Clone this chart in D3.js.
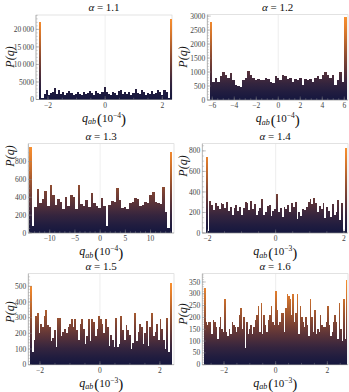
<!DOCTYPE html>
<html>
<head>
<meta charset="utf-8">
<script src="https://cdn.jsdelivr.net/npm/d3@7"></script>
<style>
  body { margin: 0; background: #fff; }
  svg { display: block; font-family: "Liberation Serif", "DejaVu Serif", serif; }
  .tick-label { font-size: 7.5px; fill: #444; }
</style>
</head>
<body>
<div id="chart"></div>
<script>
// panel titles and axis exponents
const alphas = ["1.1", "1.2", "1.3", "1.4", "1.5", "1.6"];
const exponents = ["−4", "−4", "−4", "−3", "−3", "−3"];

// histogram counts (left to right)
const counts11 = [22000, 300, 1500, 2600, 1200, 1800, 2200, 3400, 1600, 2800, 1500, 2000, 1300, 1800, 2300, 1900,
  1200, 1500, 2000, 1700, 1400, 2200, 1600, 1900, 2500, 1800, 1300, 2400, 1900, 1500, 2100, 3500, 2000, 1600,
  1200, 2100, 1800, 1400, 2300, 2600, 1500, 2000, 1700, 2200, 1200, 1800, 3100, 1900, 1500, 2700, 2200, 1400,
  1900, 1700, 2300, 1500, 1800, 2600, 2100, 1400, 2700, 2000, 400, 23000];
const counts12 = [2800, 650, 800, 650, 850, 1000, 900, 800, 950, 700, 550, 500, 450, 700, 800, 1050, 900, 800,
  700, 750, 700, 700, 800, 750, 650, 600, 850, 800, 700, 900, 850, 750, 800, 650, 750, 700, 800, 550, 750, 700,
  750, 650, 800, 850, 750, 900, 1000, 900, 800, 900, 550, 700, 1000, 650, 2950];
const counts13 = [960, 80, 290, 490, 340, 380, 470, 300, 540, 420, 310, 380, 350, 270, 400, 300, 430, 400, 270,
  540, 330, 300, 370, 290, 450, 340, 300, 280, 390, 300, 80, 310, 360, 350, 500, 370, 280, 290, 270, 340, 350,
  390, 380, 300, 310, 350, 340, 420, 460, 350, 340, 330, 510, 230, 60, 910];
const counts14 = [740, 20, 310, 270, 220, 290, 260, 230, 290, 280, 240, 300, 210, 250, 180, 240, 270, 210, 250,
  180, 240, 300, 290, 220, 310, 230, 280, 180, 210, 240, 330, 180, 200, 260, 270, 170, 210, 230, 380, 200, 240,
  160, 250, 230, 270, 200, 290, 250, 300, 140, 200, 170, 230, 220, 250, 300, 330, 280, 340, 290, 200, 260, 230,
  290, 150, 250, 210, 160, 280, 180, 200, 320, 130, 290, 20, 830];
const counts15 = [500, 80, 160, 310, 330, 200, 260, 240, 310, 350, 250, 240, 150, 170, 220, 110, 300, 300, 180,
  210, 230, 200, 240, 260, 290, 240, 290, 220, 160, 260, 290, 230, 130, 180, 290, 150, 290, 270, 180, 230, 310,
  290, 260, 200, 290, 240, 120, 190, 160, 110, 300, 110, 130, 310, 220, 160, 250, 220, 190, 100, 140, 330, 150,
  210, 260, 240, 130, 200, 280, 120, 240, 330, 180, 210, 260, 160, 290, 230, 160, 100, 300, 80, 520];
const counts16 = [325, 180, 170, 180, 180, 130, 190, 180, 160, 110, 160, 200, 150, 140, 280, 140, 120, 150, 130,
  180, 170, 160, 140, 160, 210, 240, 150, 200, 70, 180, 130, 150, 170, 130, 160, 190, 210, 250, 140, 260, 130,
  210, 170, 140, 190, 210, 250, 180, 170, 310, 230, 170, 180, 220, 220, 140, 240, 300, 290, 280, 210, 300, 180,
  220, 300, 130, 250, 200, 180, 160, 200, 170, 120, 280, 200, 140, 230, 130, 150, 140, 210, 170, 160, 160, 180,
  250, 170, 120, 140, 180, 210, 180, 110, 260, 150, 100, 280, 110, 360];
const allCounts = [counts11, counts12, counts13, counts14, counts15, counts16];

// bin range (first left edge, last right edge) and plotted ranges
const binRanges = [[-2.3, 2.33], [-6.22, 6.22], [-14.1, 14.35], [-2.05, 2.08], [-2.33, 2.39], [-2.77, 2.78]];
const xDomains = [[-2.42, 2.34], [-6.45, 6.34], [-14.25, 14.65], [-2.15, 2.12], [-2.39, 2.47], [-2.84, 2.8]];
const yMaxes = [24100, 3050, 1000, 870, 580, 385];

// ticks
const yTickValues = [
  [0, 5000, 10000, 15000, 20000],
  [0, 500, 1000, 1500, 2000, 2500, 3000],
  [0, 200, 400, 600, 800],
  [0, 200, 400, 600, 800],
  [0, 100, 200, 300, 400, 500],
  [0, 50, 100, 150, 200, 250, 300, 350]
];
const yMinorSteps = [1000, 100, 50, 50, 20, 10];
const xTickValues = [[-2, 0, 2], [-6, -4, -2, 0, 2, 4, 6], [-10, -5, 0, 5, 10], [-2, 0, 2], [-2, 0, 2], [-2, 0, 2]];
const xMinorSteps = [0.5, 0.5, 1, 0.5, 0.5, 0.5];

// frame boxes [left, top, right, bottom] and y-label centres
const frames = [
  [36, 15, 172, 99.5], [207.3, 14.7, 348, 100],
  [28.3, 143.7, 174, 233], [202.3, 143.7, 348, 233],
  [28.3, 273.7, 174, 364.7], [202.3, 273.7, 348, 364.7]
];
const yLabelPos = [[10, 57], [183, 57], [10, 156], [183, 166], [10, 312], [183, 314]];

const colorStops = ["#15173f", "#2a2140", "#55303a", "#824533", "#b0602e", "#de7a2c", "#f89030"];

const fmt = (v) => {
  let s = Math.abs(v) >= 10000 ? d3.format(",")(Math.abs(v)).replace(",", "\u2009") : String(Math.abs(v));
  return v < 0 ? "−" + s : s;
};

const svg = d3.select("#chart").append("svg").attr("width", 349).attr("height", 392);
const defs = svg.append("defs");

allCounts.forEach((counts, i) => {
  const [fl, ft, fr, fb] = frames[i];
  const x = d3.scaleLinear().domain(xDomains[i]).range([fl, fr]);
  const y = d3.scaleLinear().domain([0, yMaxes[i]]).range([fb, ft]);
  const g = svg.append("g");

  // colour ramp by height
  const maxC = d3.max(counts);
  const grad = defs.append("linearGradient")
    .attr("id", "grad" + i)
    .attr("gradientUnits", "userSpaceOnUse")
    .attr("x1", 0).attr("x2", 0)
    .attr("y1", y(0)).attr("y2", y(maxC));
  const ramp = d3.interpolateRgbBasis(colorStops);
  d3.range(0, 1.0001, 0.05).forEach((t) => {
    grad.append("stop").attr("offset", t).attr("stop-color", ramp(t));
  });

  // frame
  g.append("rect")
    .attr("x", fl).attr("y", ft).attr("width", fr - fl).attr("height", fb - ft)
    .attr("fill", "none").attr("stroke", "#cfcfcf").attr("stroke-width", 0.6);

  // zero line
  g.append("line")
    .attr("x1", x(0)).attr("x2", x(0)).attr("y1", ft).attr("y2", fb)
    .attr("stroke", "#e2e2e2").attr("stroke-width", 0.6);

  // bars
  const [lo, hi] = binRanges[i];
  const w = (hi - lo) / counts.length;
  g.selectAll(".bar")
    .data(counts)
    .join("rect")
    .attr("class", "bar")
    .attr("x", (d, k) => x(lo + k * w))
    .attr("width", (d, k) => x(lo + (k + 1) * w) - x(lo + k * w))
    .attr("y", (d) => y(d))
    .attr("height", (d) => y(0) - y(d))
    .attr("fill", "url(#grad" + i + ")")
    .attr("shape-rendering", "crispEdges");

  // left and bottom axes
  g.append("line").attr("x1", fl).attr("x2", fl).attr("y1", ft).attr("y2", fb)
    .attr("stroke", "#999").attr("stroke-width", 0.6);
  g.append("line").attr("x1", fl).attr("x2", fr).attr("y1", fb).attr("y2", fb)
    .attr("stroke", "#999").attr("stroke-width", 0.6);

  // y ticks
  const yMinor = d3.range(0, yMaxes[i], yMinorSteps[i]);
  g.selectAll(".ymin").data(yMinor).join("line")
    .attr("x1", fl).attr("x2", fl + 1.8).attr("y1", (d) => y(d)).attr("y2", (d) => y(d))
    .attr("stroke", "#999").attr("stroke-width", 0.4);
  g.selectAll(".ymaj").data(yTickValues[i]).join("line")
    .attr("x1", fl).attr("x2", fl + 3.5).attr("y1", (d) => y(d)).attr("y2", (d) => y(d))
    .attr("stroke", "#888").attr("stroke-width", 0.5);
  g.selectAll(".ylab").data(yTickValues[i]).join("text")
    .attr("class", "tick-label")
    .attr("x", fl - 2).attr("y", (d) => y(d) + 2.6)
    .attr("text-anchor", "end")
    .text(fmt);

  // x ticks
  const xd = xDomains[i];
  const xMinor = d3.range(Math.ceil(xd[0] / xMinorSteps[i]) * xMinorSteps[i], xd[1], xMinorSteps[i]);
  g.selectAll(".xmin").data(xMinor).join("line")
    .attr("x1", (d) => x(d)).attr("x2", (d) => x(d)).attr("y1", fb).attr("y2", fb - 1.8)
    .attr("stroke", "#999").attr("stroke-width", 0.4);
  g.selectAll(".xmaj").data(xTickValues[i]).join("line")
    .attr("x1", (d) => x(d)).attr("x2", (d) => x(d)).attr("y1", fb).attr("y2", fb - 3.5)
    .attr("stroke", "#888").attr("stroke-width", 0.5);
  g.selectAll(".xlab").data(xTickValues[i]).join("text")
    .attr("class", "tick-label")
    .attr("x", (d) => x(d)).attr("y", fb + 8)
    .attr("text-anchor", "middle")
    .text(fmt);

  // title
  const cx = (fl + fr) / 2;
  const title = g.append("text")
    .attr("x", cx).attr("y", ft - 4)
    .attr("text-anchor", "middle")
    .attr("font-size", 11).attr("fill", "#111");
  title.append("tspan").attr("font-style", "italic").text("α");
  title.append("tspan").text(" = " + alphas[i]);

  // y label
  const [lx, ly] = yLabelPos[i];
  g.append("text")
    .attr("transform", `translate(${lx},${ly}) rotate(-90)`)
    .attr("text-anchor", "middle")
    .attr("dy", "0.35em")
    .attr("font-size", 12).attr("font-style", "italic").attr("fill", "#111")
    .text("P(q)");

  // x label
  const xl = g.append("text")
    .attr("x", cx).attr("y", fb + 22)
    .attr("text-anchor", "middle")
    .attr("font-size", 12).attr("fill", "#111");
  xl.append("tspan").attr("font-style", "italic").text("q");
  xl.append("tspan").attr("font-style", "italic").attr("font-size", 8).attr("dy", 2.5).text("ab");
  xl.append("tspan").attr("font-size", 15).attr("dy", 0).attr("dx", 1).text("(");
  xl.append("tspan").attr("font-size", 11).attr("dy", -2.5).text("10");
  xl.append("tspan").attr("font-size", 7.5).attr("dy", -4).text(exponents[i]);
  xl.append("tspan").attr("font-size", 15).attr("dy", 6.5).text(")");
});
</script>
</body>
</html>
